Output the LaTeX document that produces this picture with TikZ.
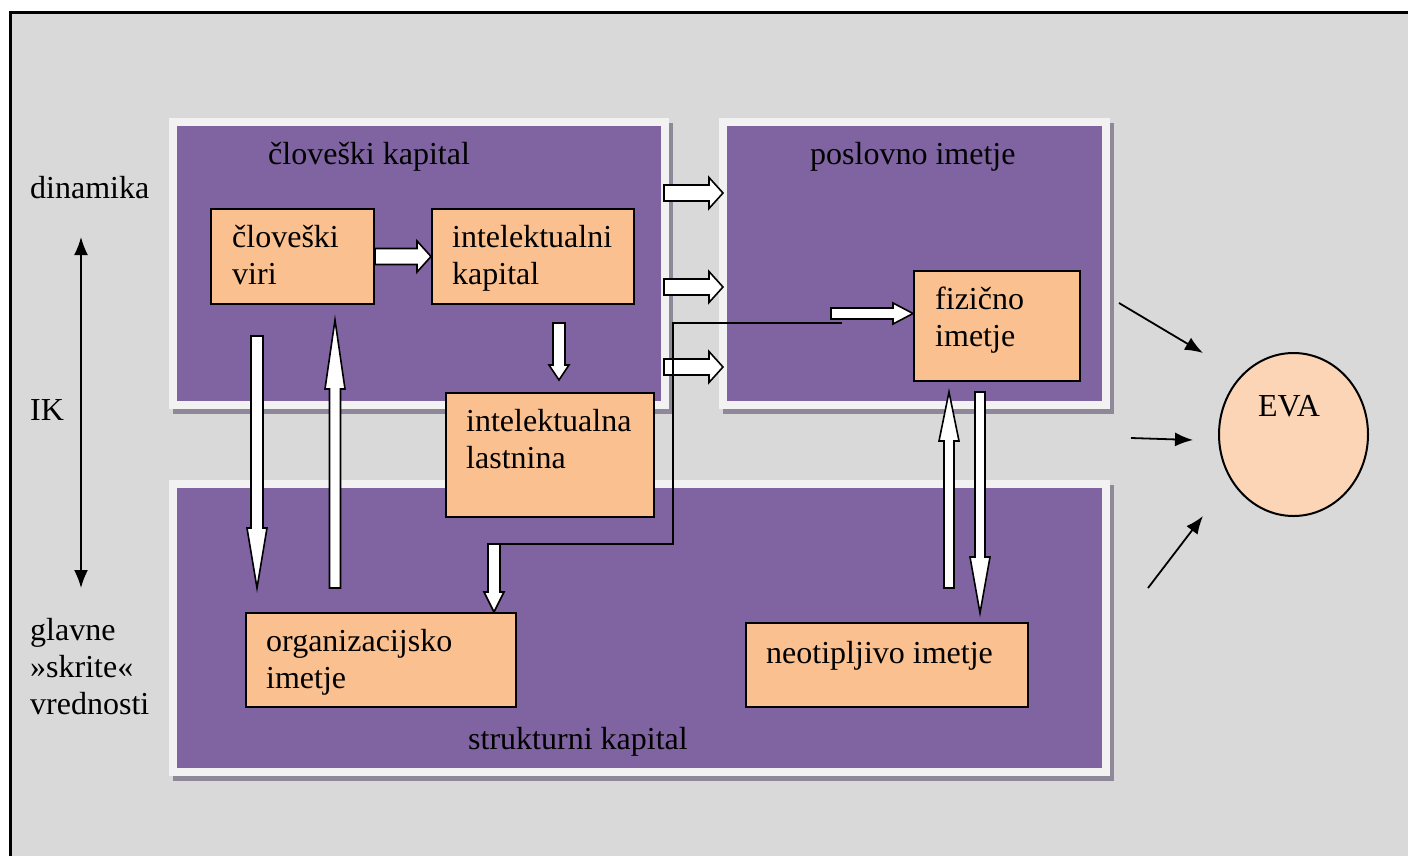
\documentclass[tikz,border=0pt]{standalone}
\usepackage{fontspec}
\setmainfont{Liberation Serif}
\usetikzlibrary{arrows.meta,calc,shapes.geometric}
\definecolor{bg}{HTML}{D9D9D9}
\definecolor{panelfill}{HTML}{8064A2}
\definecolor{rim}{HTML}{F2F2F2}
\definecolor{dropgray}{HTML}{8E8898}
\definecolor{boxfill}{HTML}{FAC090}
\definecolor{evafill}{HTML}{FBD5B5}

% purple panel with light rim and a drop shadow; corners of the rim
\newcommand\panelbox[4]{%
  \fill[dropgray] (#1+4,#2+5) rectangle (#3+4,#4+5);
  \fill[rim] (#1,#2) rectangle (#3,#4);
  \fill[panelfill] (#1+8,#2+8) rectangle (#3-8,#4-8);}

% hollow block arrow: from, to, shaft half-width, head half-width, head length
\newcommand\blockarrow[5]{%
  \path[blockarr] let \p1=(#1), \p2=(#2),
      \n1={veclen(\x2-\x1,\y2-\y1)}, \n2={atan2(\y2-\y1,\x2-\x1)} in
    [shift={(\x1,\y1)}, rotate=\n2]
    (0,#3) -- (\n1-#5,#3) -- (\n1-#5,#4) -- (\n1,0) -- (\n1-#5,-#4)
    -- (\n1-#5,-#3) -- (0,-#3) -- cycle;}

\begin{document}
\begin{tikzpicture}[x=1pt,y=-1pt,
  every node/.style={font=\fontsize{32}{37}\selectfont, inner sep=0pt},
  txt/.style={anchor=base west},
  obox/.style={draw=black, line width=2pt, fill=boxfill, anchor=north west},
  blockarr/.style={draw=black, fill=white, line width=1.6pt, line join=miter},
  wire/.style={draw=black, line width=1.6pt},
  lead/.style={draw=black, line width=1.8pt, -{Latex[length=18pt,width=14pt]}},
]
\clip (0,0) rectangle (1408,855);
\fill[white] (0,0) rectangle (1408,855);
\fill[bg] (10,12) rectangle (1420,870);
\draw[line width=3pt] (10,870) -- (10,12) -- (1420,12);

% the three capital panels
\panelbox{169}{118}{669}{409}
\panelbox{719}{118}{1110}{409}
\panelbox{169}{480}{1110}{776}

\node[txt] at (268,164) {človeški kapital};
\node[txt] at (810,164) {poslovno imetje};
\node[txt] at (468,749) {strukturni kapital};

% side labels
\node[txt] at (30,198) {dinamika};
\node[txt] at (30,420) {IK};
\node[txt] at (30,640) {glavne};
\node[txt] at (30,677) {»skrite«};
\node[txt] at (30,714) {vrednosti};
\coordinate (axtop) at (81,237);
\coordinate (axbot) at (81,588);
\draw[lead, {Latex[length=18pt,width=14pt]}-{Latex[length=18pt,width=14pt]}] (axtop) -- (axbot);

% component boxes
\node[obox, minimum width=163, minimum height=95] (viri) at (210,208) {};
\node[obox, minimum width=202, minimum height=95] (kapital) at (431,208) {};
\node[obox, minimum width=208, minimum height=124] (lastnina) at (445,392) {};
\node[obox, minimum width=166, minimum height=110] (fizicno) at (913,270) {};
\node[obox, minimum width=270, minimum height=94] (org) at (245,612) {};
\node[obox, minimum width=282, minimum height=84] (neotip) at (745,622) {};

\node[txt] at (232,247) {človeški};
\node[txt] at (232,284) {viri};
\node[txt] at (452,247) {intelektualni};
\node[txt] at (452,284) {kapital};
\node[txt] at (466,431) {intelektualna};
\node[txt] at (466,468) {lastnina};
\node[txt] at (935,309) {fizično};
\node[txt] at (935,346) {imetje};
\node[txt] at (266,651) {organizacijsko};
\node[txt] at (266,688) {imetje};
\node[txt] at (766,663) {neotipljivo imetje};

% EVA
\node[draw=black, line width=2pt, fill=evafill, ellipse, minimum width=149, minimum height=163] (eva) at (1293.5,434.5) {};
\node[anchor=base] at (1289,416) {EVA};

% block arrows
\blockarrow{viri.east}{kapital.west}{8}{15.5}{14}
\blockarrow{559,323}{559,380}{6}{10}{15}
\blockarrow{664,193}{723,193}{8}{15.5}{14}
\blockarrow{664,287}{723,287}{8}{15.5}{14}
\blockarrow{664,367}{723,367}{8}{15.5}{14}
\blockarrow{831,313.5}{913,313.5}{5.5}{10.5}{20}
\blockarrow{494,544}{494,612}{6}{10}{20}
\blockarrow{257,336}{257,588}{6}{10}{60}
\blockarrow{335,588}{335,320}{5.5}{10}{69}
\blockarrow{949,588}{949,392}{5}{10}{49}
\blockarrow{980,392}{980,613}{5}{10}{56}

% elbow link down to the organisational assets
\draw[wire] (842,323) -- (673,323) -- (673,544) -- (487,544);

% contributions to EVA
\coordinate (e1) at (1119,303);
\coordinate (e2) at (1131,438);
\coordinate (e3) at (1148,588);
\draw[lead] (e1) -- (1203,353);
\draw[lead] (e2) -- (1193,440);
\draw[lead] (e3) -- (1203,516);
\end{tikzpicture}
\end{document}
